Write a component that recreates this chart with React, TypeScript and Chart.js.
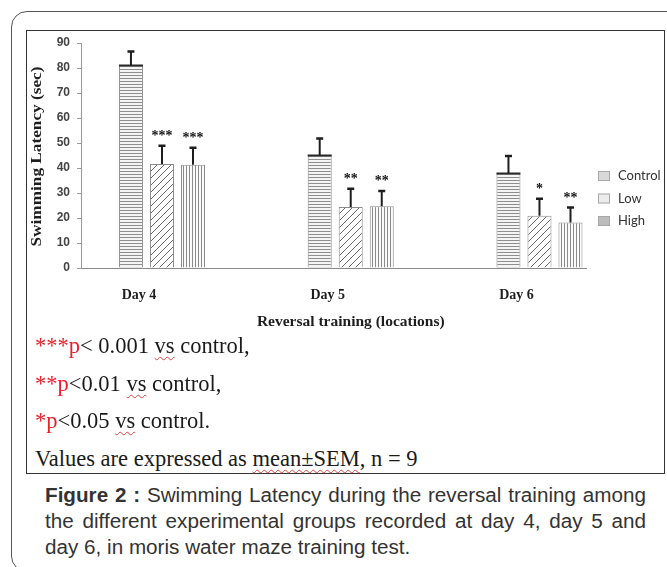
import React, { useEffect, useRef } from 'react';
import { Chart, registerables } from 'chart.js';

Chart.register(...registerables);

// ---- data ----
const categories = ['Day 4', 'Day 5', 'Day 6'];
const seriesNames = ['Control', 'Low', 'High'];
const controlMeans = [81, 45, 37.8];
const lowMeans = [41.6, 24.4, 20.9];
const highMeans = [41.3, 24.7, 18.2];
const controlSem = [5.6, 6.8, 7.0];
const lowSem = [7.3, 7.3, 6.8];
const highSem = [6.8, 6.1, 6.0];
const controlStars = ['', '', ''];
const lowStars = ['***', '**', '*'];
const highStars = ['***', '**', '**'];
const yMin = 0;
const yMax = 90;
const yStep = 10;
const yAxisTitle = 'Swimming Latency (sec)';
const xAxisTitle = 'Reversal training (locations)';

const means = [controlMeans, lowMeans, highMeans];
const sems = [controlSem, lowSem, highSem];
const stars = [controlStars, lowStars, highStars];

const legendFills = ['#d9d9d9', '#ececec', '#bcbcbd'];

function makePattern(kind: string): CanvasPattern {
  const c = document.createElement('canvas');
  const g = c.getContext('2d') as CanvasRenderingContext2D;
  if (kind === 'h') {
    c.width = 4; c.height = 3;
    g.fillStyle = '#f4f4f4'; g.fillRect(0, 0, 4, 3);
    g.fillStyle = '#8e8e8e'; g.fillRect(0, 0, 4, 1);
  } else if (kind === 'd') {
    c.width = 7; c.height = 7;
    g.fillStyle = '#ffffff'; g.fillRect(0, 0, 7, 7);
    g.strokeStyle = '#6a6a6a'; g.lineWidth = 1;
    g.beginPath();
    g.moveTo(0, 7); g.lineTo(7, 0);
    g.moveTo(-1, 1); g.lineTo(1, -1);
    g.moveTo(6, 8); g.lineTo(8, 6);
    g.stroke();
  } else {
    c.width = 3; c.height = 3;
    g.fillStyle = '#fafafa'; g.fillRect(0, 0, 3, 3);
    g.fillStyle = '#8a8a8a'; g.fillRect(0, 0, 1, 3);
  }
  return g.createPattern(c, 'repeat') as CanvasPattern;
}

const overlayPlugin = {
  id: 'overlay',
  afterDatasetsDraw(chart: any) {
    const ctx = chart.ctx as CanvasRenderingContext2D;
    const yScale = chart.scales.y;
    chart.data.datasets.forEach((ds: any, di: number) => {
      const meta = chart.getDatasetMeta(di);
      meta.data.forEach((bar: any, i: number) => {
        const v = ds.data[i].y;
        const topPx = yScale.getPixelForValue(v + ds.errors[i]);
        ctx.save();
        if (di === 0) {
          ctx.fillStyle = '#2a2a2a';
          ctx.fillRect(bar.x - bar.width / 2, bar.y - 1, bar.width, 2);
        }
        ctx.strokeStyle = '#1e1e1e';
        ctx.lineWidth = 2;
        ctx.beginPath();
        ctx.moveTo(bar.x, bar.y);
        ctx.lineTo(bar.x, topPx);
        ctx.stroke();
        ctx.lineWidth = 2.5;
        ctx.beginPath();
        ctx.moveTo(bar.x - 3.5, topPx);
        ctx.lineTo(bar.x + 3.5, topPx);
        ctx.stroke();
        if (ds.stars[i]) {
          ctx.fillStyle = '#111';
          ctx.font = 'bold 14px "Liberation Serif", serif';
          ctx.textAlign = 'center';
          ctx.textBaseline = 'alphabetic';
          ctx.fillText(ds.stars[i], bar.x, topPx - 6);
        }
        ctx.restore();
      });
    });
  },
  afterDraw(chart: any) {
    const ctx = chart.ctx as CanvasRenderingContext2D;
    const ca = chart.chartArea;
    const xScale = chart.scales.x;
    ctx.save();
    // y-axis title
    ctx.font = 'bold 15px "Liberation Serif", serif';
    const w = ctx.measureText(yAxisTitle).width;
    const target = (ca.bottom - ca.top) * 0.8;
    ctx.translate(ca.left - 44, (ca.top + ca.bottom) / 2 + 1);
    ctx.rotate(-Math.PI / 2);
    ctx.scale(target / w, 1);
    ctx.textAlign = 'center';
    ctx.textBaseline = 'middle';
    ctx.fillStyle = '#1e1e1e';
    ctx.fillText(yAxisTitle, 0, 0);
    ctx.restore();

    // x-axis title
    ctx.save();
    ctx.font = 'bold 15.5px "Liberation Serif", serif';
    ctx.textAlign = 'center';
    ctx.textBaseline = 'middle';
    ctx.fillStyle = '#1e1e1e';
    ctx.fillText(xAxisTitle, xScale.getPixelForValue(1), ca.bottom + 54);
    ctx.restore();

    // legend
    ctx.save();
    chart.data.datasets.forEach((ds: any, s: number) => {
      const cy = ca.top + 133 + s * 22.5;
      const bx = ca.right + 12;
      ctx.fillStyle = legendFills[s];
      ctx.fillRect(bx, cy - 5, 12, 10);
      ctx.strokeStyle = '#a8a8a8';
      ctx.lineWidth = 1;
      ctx.strokeRect(bx + 0.5, cy - 4.5, 11, 9);
      ctx.fillStyle = '#333';
      ctx.font = '13px Lato, "Open Sans", sans-serif';
      ctx.textAlign = 'left';
      ctx.textBaseline = 'middle';
      ctx.fillText(ds.label, bx + 20, cy);
    });
    ctx.restore();
  },
};

function ChartCanvas() {
  const ref = useRef<HTMLCanvasElement | null>(null);
  useEffect(() => {
    if (!ref.current) return;
    const patterns = [makePattern('h'), makePattern('d'), makePattern('v')];
    const datasets = seriesNames.map((name, s) => ({
      label: name,
      data: categories.map((_, i) => ({ x: i, y: means[s][i] })),
      errors: sems[s],
      stars: stars[s],
      backgroundColor: patterns[s],
      borderColor: '#8a8a8a',
      borderWidth: 1,
      categoryPercentage: 0.493,
      barPercentage: 0.774,
    }));
    const chart = new Chart(ref.current, {
      type: 'bar',
      data: { datasets } as any,
      options: {
        animation: false,
        responsive: false,
        layout: { padding: { left: 29, right: 81, top: 43, bottom: 0 } },
        plugins: { legend: { display: false }, tooltip: { enabled: false } },
        scales: {
          x: {
            type: 'linear',
            min: -0.429,
            max: 2.2465,
            offset: false,
            afterBuildTicks: (ax: any) => {
              ax.ticks = categories.map((_, i) => ({ value: i }));
            },
            afterFit: (ax: any) => { ax.height = 72; },
            grid: { display: false },
            border: { display: true, color: '#8a8a8a', width: 1 },
            ticks: {
              callback: (v: any) => categories[v] ?? '',
              labelOffset: -23,
              padding: 11,
              autoSkip: false,
              maxRotation: 0,
              color: '#1e1e1e',
              font: { family: '"Liberation Serif", serif', weight: 'bold', size: 14 },
            },
          },
          y: {
            min: yMin,
            max: yMax,
            afterFit: (ax: any) => { ax.width = 52; },
            ticks: {
              stepSize: yStep,
              padding: 7,
              color: '#444',
              font: { family: '"Liberation Sans", Arial, sans-serif', weight: 'bold', size: 12 },
            },
            grid: { drawOnChartArea: false, drawTicks: true, tickLength: 4, color: '#9a9a9a' },
            border: { display: true, color: '#9a9a9a', width: 1 },
          },
        },
      } as any,
      plugins: [overlayPlugin],
    });
    return () => chart.destroy();
  }, []);
  return (
    <canvas
      ref={ref}
      width={667}
      height={340}
      style={{ position: 'absolute', left: 0, top: 0, width: 667, height: 340 }}
    />
  );
}

const red = { color: '#e8202a' };
const wavy: React.CSSProperties = {
  textDecorationLine: 'underline',
  textDecorationStyle: 'wavy',
  textDecorationColor: '#e04040',
  textDecorationThickness: '1px',
  textUnderlineOffset: '3px',
};

const noteStyle = (top: number): React.CSSProperties => ({
  position: 'absolute',
  left: 35,
  top,
  font: '22.5px "Liberation Serif", serif',
  lineHeight: '26px',
  color: '#1a1a1a',
  whiteSpace: 'nowrap',
});

const capStyle = (top: number, justify: boolean): React.CSSProperties => ({
  position: 'absolute',
  left: 45,
  top,
  width: 567,
  font: '19.5px "Liberation Sans", Arial, sans-serif',
  lineHeight: '26px',
  color: '#333',
  whiteSpace: 'nowrap',
  textAlign: justify ? 'justify' : 'left',
  textAlignLast: justify ? 'justify' : 'left',
  transform: 'scaleX(1.06)',
  transformOrigin: 'left top',
});

export default function App() {
  return (
    <div
      style={{
        position: 'absolute',
        left: 0,
        top: 0,
        width: 667,
        height: 567,
        overflow: 'hidden',
        background: '#fff',
      }}
    >
      <div
        style={{
          position: 'absolute',
          left: 11,
          top: 11,
          width: 700,
          height: 561,
          border: '1.5px solid #555',
          borderRadius: 16,
          boxSizing: 'border-box',
        }}
      />
      <div
        style={{
          position: 'absolute',
          left: 26,
          top: 30,
          width: 639,
          height: 444,
          border: '1.5px solid #333',
          boxSizing: 'border-box',
        }}
      />
      <ChartCanvas />
      <div style={noteStyle(333)}>
        <span style={red}>***p</span>&lt; 0.001 <span style={wavy}>vs</span> control,
      </div>
      <div style={noteStyle(371)}>
        <span style={red}>**p</span>&lt;0.01 <span style={wavy}>vs</span> control,
      </div>
      <div style={noteStyle(408)}>
        <span style={red}>*p</span>&lt;0.05 <span style={wavy}>vs</span> control.
      </div>
      <div style={noteStyle(446)}>
        Values are expressed as <span style={wavy}>mean±SEM</span>, n = 9
      </div>
      <div style={capStyle(482, true)}>
        <b>Figure 2 :</b> Swimming Latency during the reversal training among
      </div>
      <div style={capStyle(508, true)}>
        the different experimental groups recorded at day 4, day 5 and
      </div>
      <div style={capStyle(534, false)}>
        day 6, in moris water maze training test.
      </div>
    </div>
  );
}
